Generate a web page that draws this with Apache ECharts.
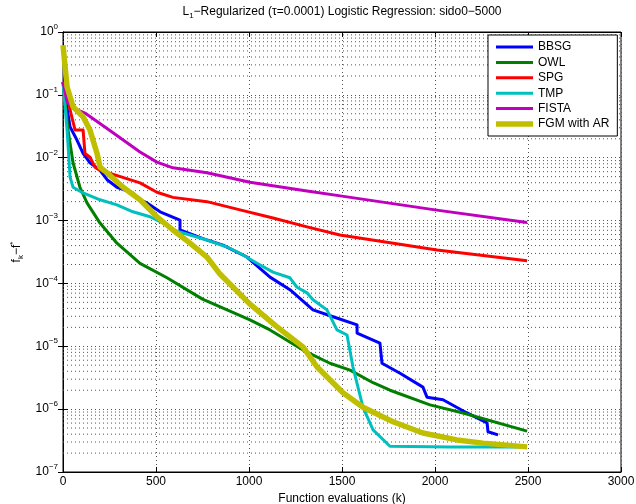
<!DOCTYPE html>
<html>
<head>
<meta charset="utf-8">
<script src="https://cdn.jsdelivr.net/npm/echarts@6/dist/echarts.min.js"></script>
<style>
  html, body { margin: 0; padding: 0; background: #fff; }
  #chart { width: 636px; height: 504px; }
</style>
</head>
<body>
<div id="chart"></div>
<script>
const font = 'Liberation Sans, Arial, Helvetica, sans-serif'

// legend / series names
const methods = ['BBSG', 'OWL', 'SPG', 'TMP', 'FISTA', 'FGM with AR']
const colors = ['#0000ff', '#007f00', '#ff0000', '#00bfbf', '#bf00bf', '#bfbf00']
const widths = [3, 3, 3, 3, 3, 5.5]

// BBSG
const bbsgX = [0, 38, 75, 108, 145, 199, 237, 290, 376, 414, 452, 522, 629, 629, 774, 860, 989, 1113, 1220, 1344, 1452, 1581, 1581, 1704, 1715, 1812, 1935, 1957, 2043, 2172, 2280, 2285, 2339]
const bbsgY = [0.16, 0.0309, 0.0191, 0.0117, 0.00832, 0.00631, 0.00447, 0.00339, 0.00275, 0.00214, 0.00191, 0.00138, 0.00102, 0.000708, 0.00049, 0.000407, 0.000263, 0.000126, 7.94e-5, 3.8e-5, 2.95e-5, 2.19e-5, 1.62e-5, 1.12e-5, 5.37e-6, 3.72e-6, 2.24e-6, 1.55e-6, 1.41e-6, 8.7e-7, 6.03e-7, 4.37e-7, 3.89e-7]

// OWL
const owlX = [0, 27, 54, 91, 129, 199, 290, 414, 559, 750, 1005, 1113, 1290, 1435, 1543, 1667, 1758, 1973, 2151, 2495]
const owlY = [0.16, 0.0275, 0.00832, 0.00339, 0.00191, 0.000912, 0.000437, 0.000209, 0.000123, 5.62e-5, 2.63e-5, 1.82e-5, 8.71e-6, 5.37e-6, 4.17e-6, 2.63e-6, 2.0e-6, 1.17e-6, 8.7e-7, 4.47e-7]

// SPG
const spgX = [0, 27, 38, 65, 108, 118, 145, 172, 199, 317, 414, 505, 591, 774, 952, 1129, 1312, 1489, 2011, 2495]
const spgY = [0.16, 0.0832, 0.0575, 0.0275, 0.0275, 0.0117, 0.0102, 0.00708, 0.00631, 0.0049, 0.00398, 0.00282, 0.00234, 0.002, 0.00148, 0.0011, 0.000794, 0.000589, 0.000339, 0.000229]

// TMP
const tmpX = [0, 22, 38, 54, 108, 199, 290, 376, 468, 538, 591, 683, 774, 882, 952, 1043, 1129, 1220, 1258, 1312, 1344, 1419, 1473, 1527, 1559, 1613, 1667, 1758, 2081, 2495]
const tmpY = [0.16, 0.0275, 0.0049, 0.00339, 0.00275, 0.00214, 0.00178, 0.00138, 0.00115, 0.000912, 0.000708, 0.000589, 0.00049, 0.00038, 0.000302, 0.000209, 0.000151, 0.000123, 8.7e-5, 7.08e-5, 5.5e-5, 3.8e-5, 1.82e-5, 1.51e-5, 4.68e-6, 1.07e-6, 4.68e-7, 2.57e-7, 2.51e-7, 2.51e-7]

// FISTA
const fistaX = [0, 22, 54, 118, 235, 414, 505, 591, 774, 1005, 1312, 1500, 2000, 2495]
const fistaY = [0.16, 0.0776, 0.0617, 0.0513, 0.0295, 0.0123, 0.0085, 0.0069, 0.00575, 0.00407, 0.00295, 0.00245, 0.00148, 0.00093]

// FGM with AR
const fgmX = [0, 22, 54, 108, 145, 183, 199, 237, 323, 414, 505, 591, 683, 774, 844, 1005, 1151, 1290, 1366, 1505, 1613, 1774, 1935, 2118, 2258, 2495]
const fgmY = [0.617, 0.133, 0.0646, 0.0447, 0.0275, 0.0117, 0.00708, 0.00575, 0.00339, 0.00214, 0.00115, 0.000708, 0.000437, 0.000263, 0.000141, 4.68e-5, 2.04e-5, 9.77e-6, 4.68e-6, 1.82e-6, 1.07e-6, 6.31e-7, 4.17e-7, 3.24e-7, 2.88e-7, 2.51e-7]

// minor log grid lines (2..9 within each decade)
const decades = [1e-7, 1e-6, 1e-5, 1e-4, 1e-3, 1e-2, 1e-1]
const minorSteps = [2, 3, 4, 5, 6, 7, 8, 9]
const xRange = [0, 3000]

const xs = [bbsgX, owlX, spgX, tmpX, fistaX, fgmX]
const ys = [bbsgY, owlY, spgY, tmpY, fistaY, fgmY]

const dotted = { type: [1, 3], color: '#555', width: 1 }

// one broken polyline that runs across the plot at every minor value
const minorData = []
decades.forEach(d => minorSteps.forEach(m => {
  minorData.push([xRange[0], m * d], [xRange[1], m * d], ['-', '-'])
}))

const series = methods.map((name, i) => ({
  name,
  type: 'line',
  symbol: 'none',
  animation: false,
  z: 3,
  lineStyle: { color: colors[i], width: widths[i], join: 'round' },
  itemStyle: { color: colors[i] },
  data: xs[i].map((x, j) => [x, ys[i][j]]),
}))
series.unshift({
  name: 'minor',
  type: 'line',
  symbol: 'none',
  silent: true,
  connectNulls: false,
  animation: false,
  z: 1,
  lineStyle: dotted,
  emphasis: { disabled: true },
  data: minorData,
})

const supRich = {
  b: { fontSize: 12, fontFamily: font, color: '#000' },
  s: { fontSize: 8, fontFamily: font, color: '#000', padding: [0, 0, 10, 0] },
}

const legendData = methods.map((name, i) => ({
  name,
  icon: 'path://M0,0H37V' + widths[i] + 'H0Z',
}))

const chart = echarts.init(document.getElementById('chart'))
chart.setOption({
  animation: false,
  backgroundColor: '#fff',
  tooltip: { show: false },
  title: {
    text: '{a|L}{s|1}{a|\u2212Regularized (\u03c4=0.0001) Logistic Regression: sido0\u22125000}',
    left: 342,
    top: 4,
    padding: 0,
    textAlign: 'center',
    textStyle: {
      fontWeight: 'normal',
      rich: {
        a: { fontSize: 12, fontFamily: font, color: '#000', fontWeight: 'normal' },
        s: { fontSize: 8, fontFamily: font, color: '#000', fontWeight: 'normal', padding: [8, 0, 0, 0] },
      },
    },
  },
  legend: {
    data: legendData,
    orient: 'vertical',
    left: 488,
    top: 35,
    padding: [6, 8, 6, 8],
    itemWidth: 37,
    itemHeight: 12,
    itemGap: 3.4,
    symbolKeepAspect: true,
    selectedMode: false,
    backgroundColor: '#fff',
    borderColor: '#000',
    borderWidth: 1,
    textStyle: { fontSize: 12, fontFamily: font, color: '#000' },
  },
  grid: {
    left: 63,
    right: 15,
    top: 32,
    bottom: 32,
    outerBoundsMode: 'none',
    containLabel: false,
    show: true,
    borderColor: '#000',
    borderWidth: 1,
  },
  xAxis: [
    {
      type: 'value',
      min: 0,
      max: 3000,
      interval: 500,
      position: 'bottom',
      name: 'Function evaluations (k)',
      nameLocation: 'middle',
      nameGap: 20,
      nameTextStyle: { fontSize: 12, fontFamily: font, color: '#000' },
      axisLine: { lineStyle: { color: '#000', width: 1 } },
      axisTick: { inside: true, length: 5, lineStyle: { color: '#000' } },
      axisLabel: { fontSize: 12, fontFamily: font, color: '#000', margin: 4, formatter: v => String(v) },
      splitLine: { show: true, lineStyle: dotted },
    },
    {
      type: 'value',
      min: 0,
      max: 3000,
      interval: 500,
      position: 'top',
      axisLine: { lineStyle: { color: '#000', width: 1 } },
      axisTick: { inside: true, length: 5, lineStyle: { color: '#000' } },
      axisLabel: { show: false },
      splitLine: { show: false },
    },
  ],
  yAxis: [
    {
      type: 'log',
      logBase: 10,
      min: 1e-7,
      max: 1,
      splitNumber: 7,
      position: 'left',
      name: '{n|f}{k|k}{n|\u2212f}{t|*}',
      nameLocation: 'middle',
      nameRotate: 90,
      nameGap: 35,
      nameTextStyle: {
        rich: {
          n: { fontSize: 12, fontFamily: font, color: '#000' },
          k: { fontSize: 8, fontFamily: font, color: '#000', padding: [7, 0, 0, 0] },
          t: { fontSize: 8, fontFamily: font, color: '#000', padding: [0, 0, 8, 0] },
        },
      },
      axisLine: { lineStyle: { color: '#000', width: 1 } },
      axisTick: { inside: true, length: 5, lineStyle: { color: '#000' } },
      axisLabel: {
        margin: 5,
        formatter: v => {
          const e = Math.round(Math.log10(v))
          return '{b|10}{s|' + (e < 0 ? '\u2212' + (-e) : e) + '}'
        },
        rich: supRich,
      },
      splitLine: { show: true, lineStyle: dotted },
    },
    {
      type: 'log',
      logBase: 10,
      min: 1e-7,
      max: 1,
      splitNumber: 7,
      position: 'right',
      axisLine: { lineStyle: { color: '#000', width: 1 } },
      axisTick: { inside: true, length: 5, lineStyle: { color: '#000' } },
      axisLabel: { show: false },
      splitLine: { show: false },
    },
  ],
  series,
})
</script>
</body>
</html>
